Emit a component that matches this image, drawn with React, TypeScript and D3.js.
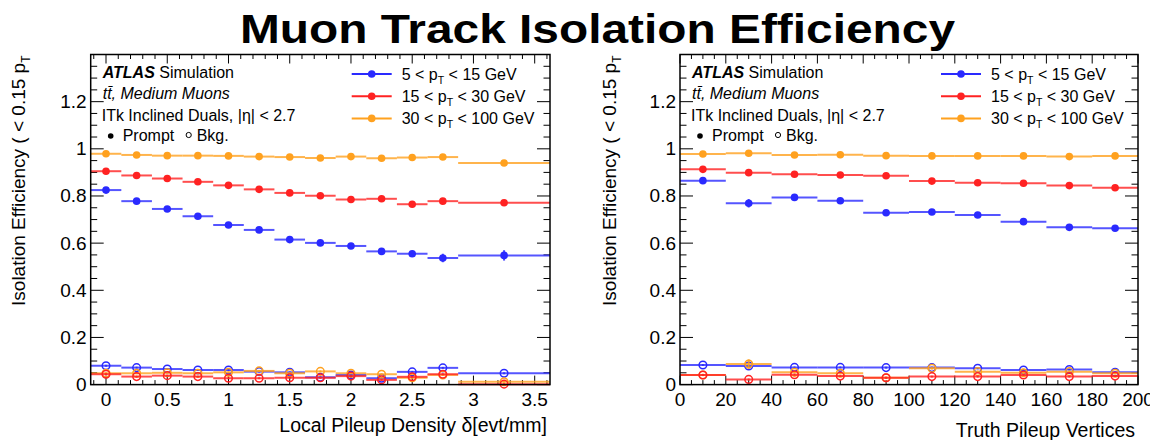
import React from "react";
import * as d3 from "d3";

// ---------- data ----------
const localX = [0, 0.25, 0.5, 0.75, 1.0, 1.25, 1.5, 1.75, 2.0, 2.25, 2.5, 2.75, 3.25];
const localEdges = [-0.125, 0.125, 0.375, 0.625, 0.875, 1.125, 1.375, 1.625, 1.875, 2.125, 2.375, 2.625, 2.875, 3.625];
const localPromptOrange = [0.979, 0.974, 0.971, 0.971, 0.970, 0.967, 0.965, 0.961, 0.967, 0.960, 0.963, 0.965, 0.940];
const localPromptRed = [0.905, 0.887, 0.874, 0.860, 0.845, 0.828, 0.813, 0.801, 0.785, 0.788, 0.765, 0.778, 0.771];
const localPromptBlue = [0.825, 0.778, 0.745, 0.714, 0.677, 0.656, 0.615, 0.601, 0.588, 0.565, 0.555, 0.537, 0.548];
const localPromptBlueErr = [0.006, 0.005, 0.005, 0.005, 0.006, 0.006, 0.006, 0.007, 0.008, 0.008, 0.010, 0.018, 0.022];
const localBkgBlue = [0.080, 0.072, 0.066, 0.062, 0.062, 0.055, 0.052, 0.031, 0.041, 0.027, 0.054, 0.071, 0.048];
const localBkgOrange = [0.048, 0.048, 0.050, 0.048, 0.052, 0.058, 0.048, 0.056, 0.048, 0.044, 0.029, 0.041, 0.012];
const localBkgRed = [0.044, 0.034, 0.038, 0.034, 0.027, 0.027, 0.029, 0.029, 0.036, 0.020, 0.033, 0.044, 0.002];

const truthX = [10, 30, 50, 70, 90, 110, 130, 150, 170, 190];
const truthEdges = [0, 20, 40, 60, 80, 100, 120, 140, 160, 180, 200];
const truthPromptOrange = [0.978, 0.981, 0.974, 0.975, 0.971, 0.970, 0.970, 0.970, 0.967, 0.970];
const truthPromptRed = [0.913, 0.899, 0.892, 0.889, 0.886, 0.863, 0.856, 0.854, 0.844, 0.835];
const truthPromptBlue = [0.865, 0.769, 0.794, 0.780, 0.729, 0.732, 0.719, 0.691, 0.667, 0.663];
const truthPromptBlueErr = [0.008, 0.018, 0.008, 0.008, 0.007, 0.006, 0.006, 0.006, 0.006, 0.006];
const truthBkgBlue = [0.083, 0.079, 0.073, 0.073, 0.072, 0.072, 0.069, 0.062, 0.064, 0.052];
const truthBkgOrange = [0.041, 0.087, 0.052, 0.048, 0.029, 0.069, 0.055, 0.050, 0.055, 0.048];
const truthBkgOrangeErr = [0.005, 0.02, 0.005, 0.005, 0.005, 0.005, 0.005, 0.005, 0.005, 0.005];
const truthBkgRed = [0.041, 0.022, 0.042, 0.036, 0.029, 0.034, 0.034, 0.041, 0.034, 0.036];

const localXTicks = [0, 0.5, 1, 1.5, 2, 2.5, 3, 3.5];
const truthXTicks = [0, 20, 40, 60, 80, 100, 120, 140, 160, 180, 200];
const yTicks = [0, 0.2, 0.4, 0.6, 0.8, 1, 1.2];

const legendLabels = [
  { lo: "5", hi: "15" },
  { lo: "15", hi: "30" },
  { lo: "30", hi: "100" },
];

const BLUE = "#2a2aff";
const RED = "#ff2222";
const ORANGE = "#ffa11f";
const FONT = "'Liberation Sans', Arial, Helvetica, sans-serif";

type Series = { vals: number[]; err?: number[]; color: string; open?: boolean };

function Panel(props: {
  x0: number; x1: number; domain: [number, number];
  xs: number[]; edges: number[]; series: Series[];
  xTicks: number[]; minorStep: number; xLabel: string; xLabelY: number;
  yLabelX: number;
}) {
  const { x0, x1, domain, xs, edges, series, xTicks, minorStep, xLabel, xLabelY, yLabelX } = props;
  const yTop = 54.5, yBot = 384.6;
  const x = d3.scaleLinear().domain(domain).range([x0, x1]);
  const y = d3.scaleLinear().domain([0, 1.4]).range([yBot, yTop]);
  const xMinor = d3.range(Math.ceil(domain[0] / minorStep) * minorStep, domain[1] + 1e-9, minorStep);
  const yMinor = d3.range(0, 1.4 + 1e-9, 0.05);
  const isMajorX = (v: number) => xTicks.some((t) => Math.abs(t - v) < 1e-6);
  const isMajorY = (v: number) => yTicks.some((t) => Math.abs(t - v) < 1e-6);
  const fmtY = (v: number) => (v === 0 ? "0" : v === 1 ? "1" : d3.format(".1f")(v));
  const fmtX = (v: number) => (Number.isInteger(v) ? String(v) : d3.format(".1f")(v));

  return (
    <g>
      {xMinor.map((v, i) => {
        const L = isMajorX(v) ? 9 : 4.5;
        return (
          <g key={"xt" + i} stroke="#000" strokeWidth={1}>
            <line x1={x(v)} x2={x(v)} y1={yBot} y2={yBot - L} />
            <line x1={x(v)} x2={x(v)} y1={yTop} y2={yTop + L} />
          </g>
        );
      })}
      {yMinor.map((v, i) => {
        const L = isMajorY(v) ? 13 : 6.5;
        return (
          <g key={"yt" + i} stroke="#000" strokeWidth={1}>
            <line x1={x0} x2={x0 + L} y1={y(v)} y2={y(v)} />
            <line x1={x1} x2={x1 - L} y1={y(v)} y2={y(v)} />
          </g>
        );
      })}
      {series.map((s, si) => (
        <g key={"s" + si}>
          {s.vals.map((v, i) => (
            <g key={i}>
              <line x1={x(edges[i])} x2={x(edges[i + 1])} y1={y(v)} y2={y(v)}
                stroke={s.color} strokeWidth={2} strokeOpacity={0.8} />
              <line x1={x(xs[i])} x2={x(xs[i])}
                y1={y(v - (s.err ? s.err[i] : 0.004))} y2={y(v + (s.err ? s.err[i] : 0.004))}
                stroke={s.color} strokeWidth={2} strokeOpacity={0.85} />
              {s.open ? (
                <circle cx={x(xs[i])} cy={y(v)} r={3.8} fill="none" stroke={s.color} strokeWidth={1.5} />
              ) : (
                <circle cx={x(xs[i])} cy={y(v)} r={3.8} fill={s.color} />
              )}
            </g>
          ))}
        </g>
      ))}
      <rect x={x0} y={yTop} width={x1 - x0} height={yBot - yTop} fill="none" stroke="#000" strokeWidth={1.5} />
      {yTicks.map((v) => (
        <text key={"yl" + v} x={x0 - 4} y={y(v) + 6.5} textAnchor="end" fontSize={19} fontFamily={FONT}>
          {fmtY(v)}
        </text>
      ))}
      {xTicks.map((v) => (
        <text key={"xl" + v} x={x(v)} y={406} textAnchor="middle" fontSize={19} fontFamily={FONT}>
          {fmtX(v)}
        </text>
      ))}
      <text x={x1 - 3} y={xLabelY} textAnchor="end" fontSize={19.5} fontFamily={FONT}>{xLabel}</text>
      <text transform={`translate(${yLabelX},${yTop + 1}) rotate(-90)`} textAnchor="end" fontSize={19} fontFamily={FONT}>
        <tspan>Isolation Efficiency ( &lt; 0.15 p</tspan>
        <tspan fontSize={12} dy={5}>T</tspan>
      </text>
      <g fontFamily={FONT} fontSize={16}>
        <text x={x0 + 12} y={78}>
          <tspan fontWeight="bold" fontStyle="italic">ATLAS</tspan>
          <tspan> Simulation</tspan>
        </text>
        <text x={x0 + 12} y={99} fontStyle="italic">tt̄, Medium Muons</text>
        <text x={x0 + 11} y={121}>ITk Inclined Duals, |η| &lt; 2.7</text>
        <circle cx={x0 + 20} cy={136} r={2.8} fill="#000" />
        <text x={x0 + 32} y={141}>Prompt</text>
        <circle cx={x0 + 98} cy={135} r={2.6} fill="none" stroke="#000" strokeWidth={1} />
        <text x={x0 + 106} y={141}>Bkg.</text>
      </g>
      <g fontFamily={FONT} fontSize={16}>
        {legendLabels.map((l, i) => {
          const c = [BLUE, RED, ORANGE][i];
          const cy = 74 + i * 22.2;
          const lx = x0 + 261;
          return (
            <g key={"lg" + i}>
              <line x1={lx} x2={lx + 40} y1={cy} y2={cy} stroke={c} strokeWidth={2} />
              <circle cx={lx + 20} cy={cy} r={3.8} fill={c} />
              <text x={lx + 50} y={cy + 5.5}>
                <tspan>{l.lo} &lt; p</tspan>
                <tspan fontSize={10.5} dy={4}>T</tspan>
                <tspan dy={-4}> &lt; {l.hi} GeV</tspan>
              </text>
            </g>
          );
        })}
      </g>
    </g>
  );
}

export default function App() {
  return (
    <div style={{ position: "absolute", left: 0, top: 0 }}>
      <svg width={1150} height={440} style={{ display: "block", background: "#fff" }}>
        <text x={240} y={43} textLength={715} lengthAdjust="spacingAndGlyphs"
          fontFamily={FONT} fontWeight="bold" fontSize={41}>Muon Track Isolation Efficiency</text>
        <Panel x0={90.7} x1={550} domain={[-0.125, 3.625]} xs={localX} edges={localEdges}
          series={[
            { vals: localBkgBlue, color: BLUE, open: true },
            { vals: localBkgOrange, color: ORANGE, open: true },
            { vals: localBkgRed, color: RED, open: true },
            { vals: localPromptOrange, color: ORANGE },
            { vals: localPromptRed, color: RED },
            { vals: localPromptBlue, err: localPromptBlueErr, color: BLUE },
          ]}
          xTicks={localXTicks} minorStep={0.1} xLabel="Local Pileup Density δ[evt/mm]" xLabelY={432}
          yLabelX={25} />
        <Panel x0={680} x1={1138} domain={[0, 200]} xs={truthX} edges={truthEdges}
          series={[
            { vals: truthBkgBlue, color: BLUE, open: true },
            { vals: truthBkgOrange, err: truthBkgOrangeErr, color: ORANGE, open: true },
            { vals: truthBkgRed, color: RED, open: true },
            { vals: truthPromptOrange, color: ORANGE },
            { vals: truthPromptRed, color: RED },
            { vals: truthPromptBlue, err: truthPromptBlueErr, color: BLUE },
          ]}
          xTicks={truthXTicks} minorStep={5} xLabel="Truth Pileup Vertices" xLabelY={437}
          yLabelX={616} />
      </svg>
    </div>
  );
}
